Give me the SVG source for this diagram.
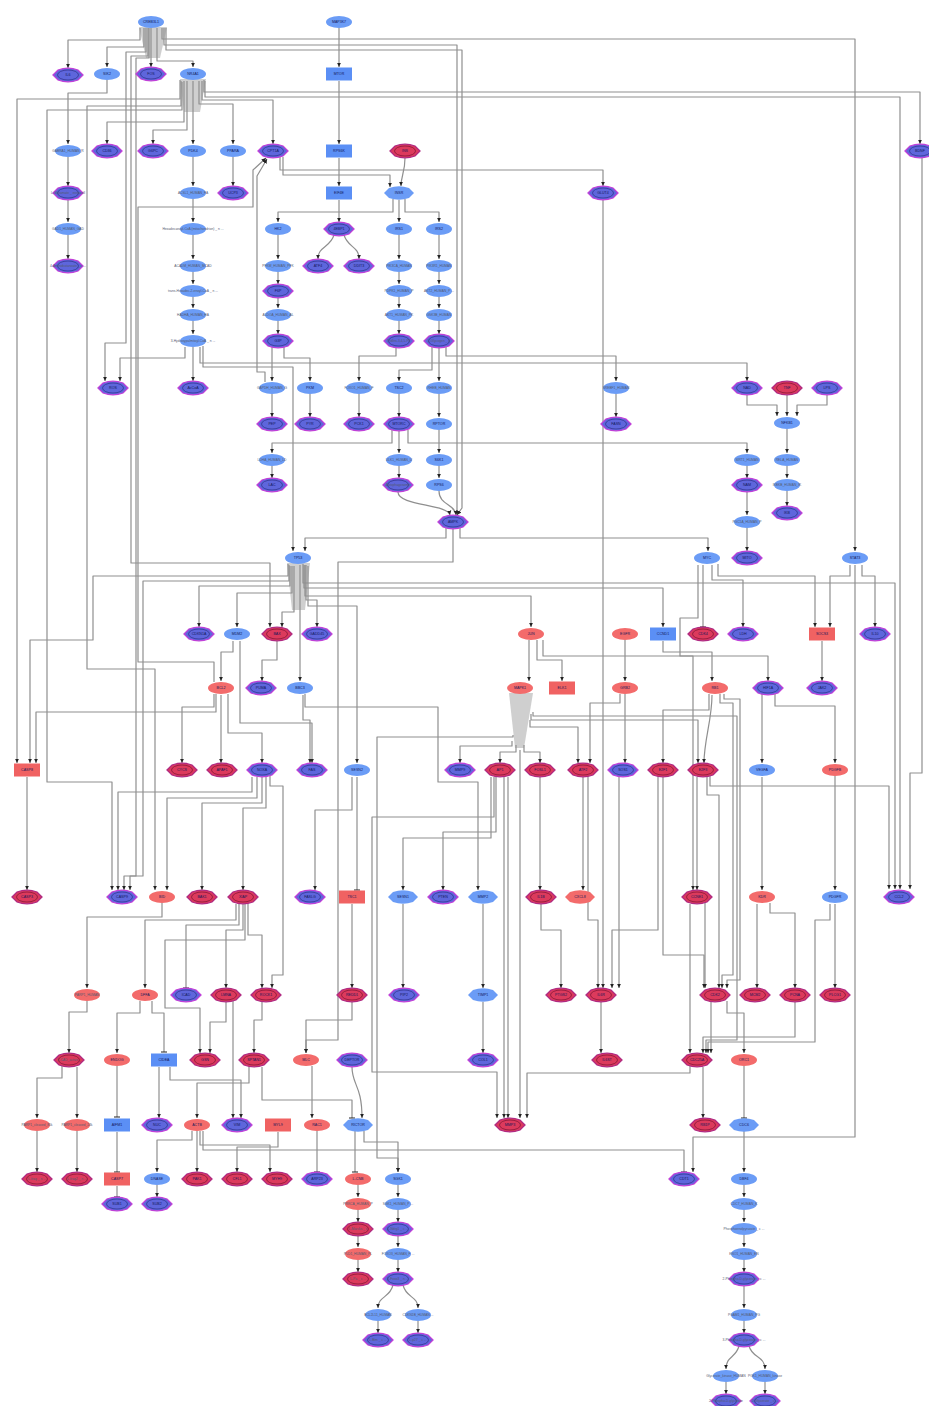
<svg xmlns="http://www.w3.org/2000/svg" width="929" height="1406" viewBox="0 0 929 1406">
<style>
.B,.BP{fill:#6b9cf6}
.R,.RP{fill:#f36b6b}
.DB{fill:#5e66dc;stroke:#c040d8;stroke-width:1.3}
.DBi{fill:none;stroke:#26267a;stroke-width:.6}
.DR{fill:#dc3a5c;stroke:#b02a82;stroke-width:1.3}
.DRi{fill:none;stroke:#6a0a30;stroke-width:.6}
.BR{fill:#5b8ff5}
.RR{fill:#f06262}
.lb{font-family:"Liberation Sans",Arial,sans-serif;font-size:3.6px;text-anchor:middle;dominant-baseline:central;fill:#14185a}
.lg{font-size:3.3px;fill:#555a70}
#edges path{fill:none;stroke:#8f8f8f;stroke-width:1.2;stroke-linejoin:round;marker-end:url(#ar)}
#edges path.t{marker-end:url(#tb)}
.cone{fill:#a8a8a8;opacity:.55}
</style>
<defs>
<marker id="ar" markerUnits="userSpaceOnUse" markerWidth="5" markerHeight="5" refX="4.5" refY="2.5" orient="auto" viewBox="0 0 5 5"><path d="M0,0.4 L4.6,2.5 L0,4.6z" fill="#222"/></marker>
<marker id="tb" markerUnits="userSpaceOnUse" markerWidth="6" markerHeight="6" refX="3" refY="3" orient="auto" viewBox="0 0 6 6"><path d="M3,0 V6" stroke="#222" stroke-width="1"/></marker>
<ellipse id="E" rx="13" ry="6"/>
<path id="P" d="M-15,0 L-10,-5 Q0,-8.6 10,-5 L15,0 L10,5 Q0,8.6 -10,5 Z"/>
<ellipse id="I" rx="10.5" ry="5"/>
<rect id="Q" x="-13" y="-6.5" width="26" height="13"/>
</defs>
<rect width="929" height="1406" fill="#ffffff"/>
<g id="cones">
<polygon class="cone" points="139,27 167,27 160,58 146,58"/>
<polygon class="cone" points="180,79 206,79 200,112 184,112"/>
<polygon class="cone" points="287,563 310,563 305,610 292,610"/>
<polygon class="cone" points="509,693 533,693 524,748 515,748"/>
</g>
<g id="edges">
<path d="M140,28 V40 H68 V68"/>
<path d="M144,28 V47 H107 V67"/>
<path d="M151,28 V67"/>
<path d="M157,28 V61 H193 V67"/>
<path d="M162,28 V39 H855 V551"/>
<path d="M164,28 V45 H457 V515"/>
<path d="M166,28 V50 H462 V508 L457,515"/>
<path d="M146,28 V52 H126 V343 H105 V381"/>
<path d="M148,28 V56 H131 V563 H270 V627"/>
<path d="M149,28 V58 H136 V876 H130 V890"/>
<path d="M339,28 V67"/>
<path d="M339,81 V144"/>
<path d="M339,158 V186"/>
<path d="M339,200 V222"/>
<path d="M334,235 C330,248 318,246 318,259"/>
<path d="M344,235 C348,248 359,246 359,259"/>
<path d="M107,80 V93 H68 V144"/>
<path d="M68,157 V186"/>
<path d="M68,200 V222"/>
<path d="M68,235 V259"/>
<path d="M184,81 V122 H107 V144"/>
<path d="M187,81 V130 H153 V144"/>
<path d="M193,81 V144"/>
<path d="M199,81 V104 H233 V144"/>
<path d="M202,81 V100 H273 V144"/>
<path d="M204,80 V92 H920 V144"/>
<path d="M205,81 V97 H900 V889"/>
<path d="M180,80 V99 H17 V763"/>
<path d="M181,81 V106 H87 V669 H155 V890"/>
<path d="M182,82 V110 H47 V782 H112 V890"/>
<path d="M193,157 V186"/>
<path d="M193,199 V222"/>
<path d="M193,235 V259"/>
<path d="M193,272 V284"/>
<path d="M193,297 V308"/>
<path d="M193,321 V334"/>
<path d="M193,347 V381"/>
<path d="M233,157 V186"/>
<path d="M185,347 V358 H120 V381"/>
<path d="M200,347 V363 H747 V381"/>
<path d="M203,346 V367 H293 V551"/>
<path d="M280,157 V170 H603 V186"/>
<path d="M283,157 V175 H390 V187"/>
<path d="M405,158 C405,172 401,176 401,186"/>
<path d="M393,199 V212 H278 V222"/>
<path d="M399,200 V222"/>
<path d="M405,199 V212 H439 V222"/>
<path d="M214,682 V662 H138 V207 H253 V170 L266,158"/>
<path d="M265,382 V372 H257 V176 L267,159"/>
<path d="M278,235 V259"/>
<path d="M278,272 V284"/>
<path d="M278,297 V308"/>
<path d="M278,321 V334"/>
<path d="M399,235 V259"/>
<path d="M399,272 V284"/>
<path d="M399,297 V308"/>
<path d="M399,321 V334"/>
<path d="M439,235 V259"/>
<path d="M439,272 V284"/>
<path d="M439,297 V308"/>
<path d="M439,321 V334"/>
<path d="M272,347 V381"/>
<path d="M284,347 V358 H310 V381"/>
<path d="M396,347 V356 H359 V381"/>
<path d="M432,347 V370 H399 V381"/>
<path d="M439,347 V381"/>
<path d="M446,347 V356 H616 V381"/>
<path d="M272,394 V417"/>
<path d="M310,394 V417"/>
<path d="M359,394 V417"/>
<path d="M399,394 V417"/>
<path d="M439,394 V417"/>
<path d="M616,394 V417"/>
<path d="M747,395 V405 H777 V416"/>
<path d="M787,395 V416"/>
<path d="M827,395 V405 H797 V416"/>
<path d="M787,429 V453"/>
<path d="M392,430 V443 H272 V453"/>
<path d="M408,430 V443 H747 V453"/>
<path d="M399,431 V453"/>
<path d="M439,430 V453"/>
<path d="M272,466 V478"/>
<path d="M399,466 V478"/>
<path d="M439,466 V478"/>
<path d="M747,466 V478"/>
<path d="M787,466 V478"/>
<path d="M787,491 V506"/>
<path d="M747,492 V515"/>
<path d="M747,528 V551"/>
<path d="M398,492 C398,506 448,504 450,515"/>
<path d="M439,491 C439,505 455,504 456,515"/>
<path d="M460,528 V538 H708 V551"/>
<path d="M446,528 V538 H305 V551"/>
<path d="M453,529 V562 H338 V1040 H306 V1053"/>
<path d="M288,564 V576 H93 V640 H30 V763"/>
<path d="M289,565 V581 H143 V876 H124 V890"/>
<path d="M290,566 V586 H199 V627"/>
<path d="M292,566 V593 H237 V627"/>
<path d="M294,566 V612 H282 V627"/>
<path d="M306,565 V600 H317 V627"/>
<path d="M308,566 V606 H357 V763"/>
<path d="M303,564 V583 H895 V889"/>
<path d="M304,565 V588 H663 V627"/>
<path d="M305,565 V596 H531 V627"/>
<path d="M300,565 V681"/>
<path d="M277,641 V660 H262 V681"/>
<path d="M233,641 V652 H221 V681"/>
<path d="M240,641 V723 H312 V763"/>
<path d="M214,694 V707 H182 V763"/>
<path d="M221,695 V763"/>
<path d="M228,694 V733 H262 V763"/>
<path d="M216,694 V712 H36 V763"/>
<path d="M303,695 V720 H310 V763"/>
<path d="M305,694 V707 H438 V782 H478 V890"/>
<path d="M27,777 V890"/>
<path d="M252,777 V792 H118 V890"/>
<path d="M257,777 V798 H167 V890"/>
<path d="M262,777 V803 H202 V890"/>
<path d="M266,777 V808 H243 V890"/>
<path d="M270,776 V786 H283 V975 H272 V988"/>
<path d="M162,903 V917 H87 V988"/>
<path d="M236,904 V920 H145 V988"/>
<path class="t" d="M239,904 V925 H186 V988"/>
<path d="M243,904 V930 H226 V988"/>
<path d="M248,904 V935 H262 V988"/>
<path d="M245,904 V940 H165 V1008 H200 V1053"/>
<path d="M87,1001 V1012 H69 V1053"/>
<path d="M140,1001 V1013 H117 V1053"/>
<path class="t" d="M152,1001 V1013 H164 V1052"/>
<path d="M226,1002 V1022 H210 V1053"/>
<path d="M262,1002 V1020 H254 V1053"/>
<path d="M233,1001 V1118"/>
<path d="M62,1066 V1078 H37 V1118"/>
<path d="M77,1067 V1118"/>
<path class="t" d="M117,1066 V1117"/>
<path d="M159,1067 V1118"/>
<path d="M170,1067 V1080 H241 V1118"/>
<path d="M249,1067 V1083 H197 V1118"/>
<path class="t" d="M262,1067 V1100 H352 V1118"/>
<path d="M312,1066 V1118"/>
<path d="M352,1002 V1020 H306 V1053"/>
<path d="M352,1067 C352,1085 362,1085 362,1118"/>
<path d="M37,1131 V1172"/>
<path d="M77,1131 V1172"/>
<path class="t" d="M117,1132 V1172"/>
<path class="t" d="M117,1186 V1197"/>
<path d="M157,1185 V1197"/>
<path d="M192,1131 V1140 H157 V1172"/>
<path d="M197,1131 V1172"/>
<path d="M200,1131 V1145 H270 V1172"/>
<path class="t" d="M203,1131 V1150 H684 V1172"/>
<path d="M278,1132 V1147 H237 V1172"/>
<path class="t" d="M317,1131 V1172"/>
<path class="t" d="M355,1131 V1172"/>
<path d="M364,1131 V1142 H398 V1172"/>
<path d="M358,1185 V1197"/>
<path d="M358,1210 V1222"/>
<path d="M358,1235 V1247"/>
<path d="M358,1260 V1272"/>
<path d="M398,1185 V1197"/>
<path d="M398,1210 V1222"/>
<path d="M398,1235 V1247"/>
<path d="M398,1260 V1272"/>
<path d="M393,1285 C390,1298 378,1296 378,1308"/>
<path d="M403,1285 C406,1298 418,1296 418,1308"/>
<path d="M378,1321 V1333"/>
<path d="M418,1321 V1333"/>
<path d="M529,640 V681"/>
<path d="M537,640 V660 H562 V681"/>
<path d="M543,640 V656 H693 V890"/>
<path d="M625,640 V681"/>
<path d="M625,694 V763"/>
<path d="M620,694 V703 H590 V763"/>
<path d="M663,641 V652 H712 V681"/>
<path class="t" d="M703,565 V627"/>
<path d="M712,565 V580 H743 V627"/>
<path d="M718,564 V576 H815 V627"/>
<path d="M698,565 V618 H680 V656 H768 V681"/>
<path d="M850,565 V576 H830 V627"/>
<path d="M862,565 V576 H875 V627"/>
<path d="M855,565 V1137 H693 V1172"/>
<path d="M822,641 V681"/>
<path d="M762,694 V763"/>
<path d="M775,694 V706 H835 V763"/>
<path d="M762,777 V890"/>
<path d="M835,776 V890"/>
<path d="M709,694 V710 H663 V763"/>
<path d="M712,695 C712,720 704,740 704,763"/>
<path d="M720,694 V703 H733 V975 H722 V988"/>
<path d="M724,694 V699 H740 V980 H727 V988"/>
<path d="M697,777 V890"/>
<path d="M707,777 V795 H719 V988"/>
<path d="M710,776 V786 H889 V889"/>
<path d="M663,777 V955 H704 V988"/>
<path d="M658,777 V930 H612 V988"/>
<path d="M619,777 V988"/>
<path d="M588,777 V920 H598 V988"/>
<path d="M603,200 V988"/>
<path d="M583,777 V890"/>
<path d="M491,777 V838 H403 V890"/>
<path d="M496,777 V832 H443 V890"/>
<path d="M504,777 V1118"/>
<path d="M508,777 V1118"/>
<path d="M494,777 V817 H372 V1072 H497 V1118"/>
<path d="M512,741 V746 H460 V763"/>
<path d="M516,745 V752 H500 V763"/>
<path d="M524,745 V752 H540 V763"/>
<path d="M530,720 V727 H578 V763"/>
<path d="M520,750 V1118"/>
<path d="M513,735 V737 H377 V1158 H398 V1172"/>
<path d="M533,712 V716 H737 V1040 H706 V1053"/>
<path d="M531,714 V720 H698 V763"/>
<path d="M540,777 V890"/>
<path d="M541,904 V930 H561 V988"/>
<path d="M601,1002 V1053"/>
<path d="M757,904 V988"/>
<path d="M770,903 V913 H795 V988"/>
<path d="M835,904 V988"/>
<path d="M795,1002 V1037 H703 V1053"/>
<path d="M830,904 V920 H815 V1042 H708 V1053"/>
<path d="M727,1001 V1013 H744 V1053"/>
<path d="M711,1002 V1053"/>
<path d="M703,1067 V1118"/>
<path d="M690,1065 V1073 H527 V1118"/>
<path class="t" d="M744,1066 V1118"/>
<path d="M744,1131 V1172"/>
<path d="M744,1185 V1197"/>
<path d="M744,1210 V1222"/>
<path d="M744,1235 V1247"/>
<path d="M744,1260 V1272"/>
<path d="M744,1286 V1308"/>
<path d="M744,1321 V1333"/>
<path d="M739,1346 C736,1358 726,1356 726,1369"/>
<path d="M749,1346 C752,1358 765,1356 765,1369"/>
<path d="M726,1382 V1394"/>
<path d="M765,1382 V1394"/>
<path class="t" d="M357,777 V890"/>
<path d="M352,777 V810 H315 V890"/>
<path d="M352,904 V988"/>
<path d="M403,904 V988"/>
<path d="M483,904 V988"/>
<path d="M483,1002 V1053"/>
<path d="M922,158 V773 H910 V889"/>
<path d="M705,903 V988"/>
<path d="M690,904 V1053"/>
</g>
<g id="nodes">
<g id="n1"><use href="#E" class="B" x="151" y="22"/><text class="lb" x="151" y="22">CREB3L1</text></g>
<g id="n2"><use href="#E" class="B" x="339" y="22"/><text class="lb" x="339" y="22">MAP3K7</text></g>
<g id="n3"><use href="#P" class="DB" x="68" y="75"/><use href="#I" class="DBi" x="68" y="75"/><text class="lb" x="68" y="75">IL6</text></g>
<g id="n4"><use href="#E" class="B" x="107" y="74"/><text class="lb" x="107" y="74">SIK2</text></g>
<g id="n5"><use href="#P" class="DB" x="151" y="74"/><use href="#I" class="DBi" x="151" y="74"/><text class="lb" x="151" y="74">FOS</text></g>
<g id="n6"><use href="#E" class="B" x="193" y="74"/><text class="lb" x="193" y="74">NR4A1</text></g>
<g id="n7"><use href="#Q" class="BR" x="339" y="74"/><text class="lb" x="339" y="74">MTOR</text></g>
<g id="n8"><use href="#E" class="B" x="68" y="151"/><text class="lb lg" x="68" y="151">GABRA1_HUMAN_R</text></g>
<g id="n9"><use href="#P" class="DB" x="107" y="151"/><use href="#I" class="DBi" x="107" y="151"/><text class="lb" x="107" y="151">CD36</text></g>
<g id="n10"><use href="#P" class="DB" x="153" y="151"/><use href="#I" class="DBi" x="153" y="151"/><text class="lb" x="153" y="151">G6PC</text></g>
<g id="n11"><use href="#E" class="B" x="193" y="151"/><text class="lb" x="193" y="151">PDK4</text></g>
<g id="n12"><use href="#E" class="B" x="233" y="151"/><text class="lb" x="233" y="151">PPARA</text></g>
<g id="n13"><use href="#P" class="DB" x="273" y="151"/><use href="#I" class="DBi" x="273" y="151"/><text class="lb" x="273" y="151">CPT1A</text></g>
<g id="n14"><use href="#Q" class="BR" x="339" y="151"/><text class="lb" x="339" y="151">RPS6K</text></g>
<g id="n15"><use href="#P" class="DR" x="405" y="151"/><use href="#I" class="DRi" x="405" y="151"/><text class="lb" x="405" y="151">INS</text></g>
<g id="n16"><use href="#P" class="DB" x="920" y="151"/><use href="#I" class="DBi" x="920" y="151"/><text class="lb" x="920" y="151">BDNF</text></g>
<g id="n17"><use href="#P" class="DB" x="68" y="193"/><use href="#I" class="DBi" x="68" y="193"/><text class="lb lg" x="68" y="193">L-Glutamate _ extracell</text></g>
<g id="n18"><use href="#E" class="B" x="193" y="193"/><text class="lb lg" x="193" y="193">ACSL1_HUMAN_FA</text></g>
<g id="n19"><use href="#P" class="DB" x="233" y="193"/><use href="#I" class="DBi" x="233" y="193"/><text class="lb" x="233" y="193">UCP3</text></g>
<g id="n20"><use href="#Q" class="BR" x="339" y="193"/><text class="lb" x="339" y="193">EIF4E</text></g>
<g id="n21"><use href="#P" class="BP" x="399" y="193"/><text class="lb" x="399" y="193">INSR</text></g>
<g id="n22"><use href="#P" class="DB" x="603" y="193"/><use href="#I" class="DBi" x="603" y="193"/><text class="lb" x="603" y="193">GLUT4</text></g>
<g id="n23"><use href="#E" class="B" x="68" y="229"/><text class="lb lg" x="68" y="229">GAD1_HUMAN_GAD</text></g>
<g id="n24"><use href="#E" class="B" x="193" y="229"/><text class="lb lg" x="193" y="229">Hexadecanoyl-CoA (mitochondrion) _ n ...</text></g>
<g id="n25"><use href="#E" class="B" x="278" y="229"/><text class="lb" x="278" y="229">HK2</text></g>
<g id="n26"><use href="#P" class="DB" x="339" y="229"/><use href="#I" class="DBi" x="339" y="229"/><text class="lb" x="339" y="229">4EBP1</text></g>
<g id="n27"><use href="#E" class="B" x="399" y="229"/><text class="lb" x="399" y="229">IRS1</text></g>
<g id="n28"><use href="#E" class="B" x="439" y="229"/><text class="lb" x="439" y="229">IRS2</text></g>
<g id="n29"><use href="#P" class="DB" x="68" y="266"/><use href="#I" class="DBi" x="68" y="266"/><text class="lb lg" x="68" y="266">4-Aminobutanoate _ c ...</text></g>
<g id="n30"><use href="#E" class="B" x="193" y="266"/><text class="lb lg" x="193" y="266">ACADM_HUMAN_MCAD</text></g>
<g id="n31"><use href="#E" class="B" x="278" y="266"/><text class="lb lg" x="278" y="266">PFKM_HUMAN_PFK</text></g>
<g id="n32"><use href="#P" class="DB" x="318" y="266"/><use href="#I" class="DBi" x="318" y="266"/><text class="lb" x="318" y="266">ATF4</text></g>
<g id="n33"><use href="#P" class="DB" x="359" y="266"/><use href="#I" class="DBi" x="359" y="266"/><text class="lb" x="359" y="266">DDIT3</text></g>
<g id="n34"><use href="#E" class="B" x="399" y="266"/><text class="lb lg" x="399" y="266">PIK3CA_HUMAN</text></g>
<g id="n35"><use href="#E" class="B" x="439" y="266"/><text class="lb lg" x="439" y="266">PIK3R1_HUMAN</text></g>
<g id="n36"><use href="#E" class="B" x="193" y="291"/><text class="lb lg" x="193" y="291">trans-Hexadec-2-enoyl-CoA _ n ...</text></g>
<g id="n37"><use href="#P" class="DB" x="278" y="291"/><use href="#I" class="DBi" x="278" y="291"/><text class="lb" x="278" y="291">F6P</text></g>
<g id="n38"><use href="#E" class="B" x="399" y="291"/><text class="lb lg" x="399" y="291">PDPK1_HUMAN_P</text></g>
<g id="n39"><use href="#E" class="B" x="439" y="291"/><text class="lb lg" x="439" y="291">AKT2_HUMAN_P ...</text></g>
<g id="n40"><use href="#E" class="B" x="193" y="315"/><text class="lb lg" x="193" y="315">HADHA_HUMAN_HA</text></g>
<g id="n41"><use href="#E" class="B" x="278" y="315"/><text class="lb lg" x="278" y="315">ALDOA_HUMAN_AL</text></g>
<g id="n42"><use href="#E" class="B" x="399" y="315"/><text class="lb lg" x="399" y="315">AKT1_HUMAN_PK</text></g>
<g id="n43"><use href="#E" class="B" x="439" y="315"/><text class="lb lg" x="439" y="315">GSK3B_HUMAN</text></g>
<g id="n44"><use href="#E" class="B" x="193" y="341"/><text class="lb lg" x="193" y="341">3-Hydroxypalmitoyl-CoA _ n ...</text></g>
<g id="n45"><use href="#P" class="DB" x="278" y="341"/><use href="#I" class="DBi" x="278" y="341"/><text class="lb" x="278" y="341">G3P</text></g>
<g id="n46"><use href="#P" class="DB" x="399" y="341"/><use href="#I" class="DBi" x="399" y="341"/><text class="lb lg" x="399" y="341">PtdIns-3,4,5-P3</text></g>
<g id="n47"><use href="#P" class="DB" x="439" y="341"/><use href="#I" class="DBi" x="439" y="341"/><text class="lb lg" x="439" y="341">L-Glycogen _ c</text></g>
<g id="n48"><use href="#P" class="DB" x="113" y="388"/><use href="#I" class="DBi" x="113" y="388"/><text class="lb" x="113" y="388">ROS</text></g>
<g id="n49"><use href="#P" class="DB" x="193" y="388"/><use href="#I" class="DBi" x="193" y="388"/><text class="lb" x="193" y="388">AcCoA</text></g>
<g id="n50"><use href="#E" class="B" x="272" y="388"/><text class="lb lg" x="272" y="388">GAPDH_HUMAN_G</text></g>
<g id="n51"><use href="#E" class="B" x="310" y="388"/><text class="lb" x="310" y="388">PKM</text></g>
<g id="n52"><use href="#E" class="B" x="359" y="388"/><text class="lb lg" x="359" y="388">FOXO1_HUMAN_F</text></g>
<g id="n53"><use href="#E" class="B" x="399" y="388"/><text class="lb" x="399" y="388">TSC2</text></g>
<g id="n54"><use href="#E" class="B" x="439" y="388"/><text class="lb lg" x="439" y="388">RHEB_HUMAN</text></g>
<g id="n55"><use href="#E" class="B" x="616" y="388"/><text class="lb lg" x="616" y="388">SREBF1_HUMAN</text></g>
<g id="n56"><use href="#P" class="DB" x="747" y="388"/><use href="#I" class="DBi" x="747" y="388"/><text class="lb" x="747" y="388">NAD</text></g>
<g id="n57"><use href="#P" class="DR" x="787" y="388"/><use href="#I" class="DRi" x="787" y="388"/><text class="lb" x="787" y="388">TNF</text></g>
<g id="n58"><use href="#P" class="DB" x="827" y="388"/><use href="#I" class="DBi" x="827" y="388"/><text class="lb" x="827" y="388">LPS</text></g>
<g id="n59"><use href="#P" class="DB" x="272" y="424"/><use href="#I" class="DBi" x="272" y="424"/><text class="lb" x="272" y="424">PEP</text></g>
<g id="n60"><use href="#P" class="DB" x="310" y="424"/><use href="#I" class="DBi" x="310" y="424"/><text class="lb" x="310" y="424">PYR</text></g>
<g id="n61"><use href="#P" class="DB" x="359" y="424"/><use href="#I" class="DBi" x="359" y="424"/><text class="lb" x="359" y="424">PCK1</text></g>
<g id="n62"><use href="#P" class="DB" x="399" y="424"/><use href="#I" class="DBi" x="399" y="424"/><text class="lb" x="399" y="424">MTORC</text></g>
<g id="n63"><use href="#E" class="B" x="439" y="424"/><text class="lb" x="439" y="424">RPTOR</text></g>
<g id="n64"><use href="#P" class="DB" x="616" y="424"/><use href="#I" class="DBi" x="616" y="424"/><text class="lb" x="616" y="424">FASN</text></g>
<g id="n65"><use href="#E" class="B" x="787" y="423"/><text class="lb" x="787" y="423">NFKB1</text></g>
<g id="n66"><use href="#E" class="B" x="272" y="460"/><text class="lb lg" x="272" y="460">LDHA_HUMAN_LD</text></g>
<g id="n67"><use href="#E" class="B" x="399" y="460"/><text class="lb lg" x="399" y="460">ULK1_HUMAN_U</text></g>
<g id="n68"><use href="#E" class="B" x="439" y="460"/><text class="lb" x="439" y="460">S6K1</text></g>
<g id="n69"><use href="#E" class="B" x="747" y="460"/><text class="lb lg" x="747" y="460">SIRT1_HUMAN</text></g>
<g id="n70"><use href="#E" class="B" x="787" y="460"/><text class="lb lg" x="787" y="460">RELA_HUMAN</text></g>
<g id="n71"><use href="#P" class="DB" x="272" y="485"/><use href="#I" class="DBi" x="272" y="485"/><text class="lb" x="272" y="485">LAC</text></g>
<g id="n72"><use href="#P" class="DB" x="398" y="485"/><use href="#I" class="DBi" x="398" y="485"/><text class="lb lg" x="398" y="485">Autophagosome</text></g>
<g id="n73"><use href="#E" class="B" x="439" y="485"/><text class="lb" x="439" y="485">RPS6</text></g>
<g id="n74"><use href="#P" class="DB" x="747" y="485"/><use href="#I" class="DBi" x="747" y="485"/><text class="lb" x="747" y="485">NAM</text></g>
<g id="n75"><use href="#E" class="B" x="787" y="485"/><text class="lb lg" x="787" y="485">IKBKB_HUMAN_IK</text></g>
<g id="n76"><use href="#P" class="DB" x="787" y="513"/><use href="#I" class="DBi" x="787" y="513"/><text class="lb" x="787" y="513">IKB</text></g>
<g id="n77"><use href="#P" class="DB" x="453" y="522"/><use href="#I" class="DBi" x="453" y="522"/><text class="lb" x="453" y="522">AMPK</text></g>
<g id="n78"><use href="#E" class="B" x="747" y="522"/><text class="lb lg" x="747" y="522">PGC1A_HUMAN_P</text></g>
<g id="n79"><use href="#E" class="B" x="298" y="558"/><text class="lb" x="298" y="558">TP53</text></g>
<g id="n80"><use href="#E" class="B" x="707" y="558"/><text class="lb" x="707" y="558">MYC</text></g>
<g id="n81"><use href="#P" class="DB" x="747" y="558"/><use href="#I" class="DBi" x="747" y="558"/><text class="lb" x="747" y="558">MITO</text></g>
<g id="n82"><use href="#E" class="B" x="855" y="558"/><text class="lb" x="855" y="558">STAT3</text></g>
<g id="n83"><use href="#P" class="DB" x="199" y="634"/><use href="#I" class="DBi" x="199" y="634"/><text class="lb" x="199" y="634">CDKN1A</text></g>
<g id="n84"><use href="#E" class="B" x="237" y="634"/><text class="lb" x="237" y="634">MDM2</text></g>
<g id="n85"><use href="#P" class="DR" x="277" y="634"/><use href="#I" class="DRi" x="277" y="634"/><text class="lb" x="277" y="634">BAX</text></g>
<g id="n86"><use href="#P" class="DB" x="317" y="634"/><use href="#I" class="DBi" x="317" y="634"/><text class="lb" x="317" y="634">GADD45</text></g>
<g id="n87"><use href="#E" class="R" x="531" y="634"/><text class="lb" x="531" y="634">JUN</text></g>
<g id="n88"><use href="#E" class="R" x="625" y="634"/><text class="lb" x="625" y="634">EGFR</text></g>
<g id="n89"><use href="#Q" class="BR" x="663" y="634"/><text class="lb" x="663" y="634">CCND1</text></g>
<g id="n90"><use href="#P" class="DR" x="703" y="634"/><use href="#I" class="DRi" x="703" y="634"/><text class="lb" x="703" y="634">CDK4</text></g>
<g id="n91"><use href="#P" class="DB" x="743" y="634"/><use href="#I" class="DBi" x="743" y="634"/><text class="lb" x="743" y="634">LDH</text></g>
<g id="n92"><use href="#Q" class="RR" x="822" y="634"/><text class="lb" x="822" y="634">SOCS3</text></g>
<g id="n93"><use href="#P" class="DB" x="875" y="634"/><use href="#I" class="DBi" x="875" y="634"/><text class="lb" x="875" y="634">IL10</text></g>
<g id="n94"><use href="#E" class="R" x="221" y="688"/><text class="lb" x="221" y="688">BCL2</text></g>
<g id="n95"><use href="#P" class="DB" x="261" y="688"/><use href="#I" class="DBi" x="261" y="688"/><text class="lb" x="261" y="688">PUMA</text></g>
<g id="n96"><use href="#E" class="B" x="300" y="688"/><text class="lb" x="300" y="688">BBC3</text></g>
<g id="n97"><use href="#E" class="R" x="520" y="688"/><text class="lb" x="520" y="688">MAPK1</text></g>
<g id="n98"><use href="#Q" class="RR" x="562" y="688"/><text class="lb" x="562" y="688">ELK1</text></g>
<g id="n99"><use href="#E" class="R" x="625" y="688"/><text class="lb" x="625" y="688">GRB2</text></g>
<g id="n100"><use href="#E" class="R" x="715" y="688"/><text class="lb" x="715" y="688">RB1</text></g>
<g id="n101"><use href="#P" class="DB" x="768" y="688"/><use href="#I" class="DBi" x="768" y="688"/><text class="lb" x="768" y="688">HIF1A</text></g>
<g id="n102"><use href="#P" class="DB" x="822" y="688"/><use href="#I" class="DBi" x="822" y="688"/><text class="lb" x="822" y="688">JAK2</text></g>
<g id="n103"><use href="#Q" class="RR" x="27" y="770"/><text class="lb" x="27" y="770">CASP8</text></g>
<g id="n104"><use href="#P" class="DR" x="182" y="770"/><use href="#I" class="DRi" x="182" y="770"/><text class="lb" x="182" y="770">CYCS</text></g>
<g id="n105"><use href="#P" class="DR" x="222" y="770"/><use href="#I" class="DRi" x="222" y="770"/><text class="lb" x="222" y="770">APAF1</text></g>
<g id="n106"><use href="#P" class="DB" x="262" y="770"/><use href="#I" class="DBi" x="262" y="770"/><text class="lb" x="262" y="770">NOXA</text></g>
<g id="n107"><use href="#P" class="DB" x="312" y="770"/><use href="#I" class="DBi" x="312" y="770"/><text class="lb" x="312" y="770">FAS</text></g>
<g id="n108"><use href="#E" class="B" x="357" y="770"/><text class="lb" x="357" y="770">SESN2</text></g>
<g id="n109"><use href="#P" class="DB" x="460" y="770"/><use href="#I" class="DBi" x="460" y="770"/><text class="lb" x="460" y="770">MMP9</text></g>
<g id="n110"><use href="#P" class="DR" x="500" y="770"/><use href="#I" class="DRi" x="500" y="770"/><text class="lb" x="500" y="770">AP1</text></g>
<g id="n111"><use href="#P" class="DR" x="540" y="770"/><use href="#I" class="DRi" x="540" y="770"/><text class="lb" x="540" y="770">FOSL1</text></g>
<g id="n112"><use href="#P" class="DR" x="583" y="770"/><use href="#I" class="DRi" x="583" y="770"/><text class="lb" x="583" y="770">ATF2</text></g>
<g id="n113"><use href="#P" class="DB" x="623" y="770"/><use href="#I" class="DBi" x="623" y="770"/><text class="lb" x="623" y="770">SOS1</text></g>
<g id="n114"><use href="#P" class="DR" x="663" y="770"/><use href="#I" class="DRi" x="663" y="770"/><text class="lb" x="663" y="770">E2F1</text></g>
<g id="n115"><use href="#P" class="DR" x="703" y="770"/><use href="#I" class="DRi" x="703" y="770"/><text class="lb" x="703" y="770">E2F3</text></g>
<g id="n116"><use href="#E" class="B" x="762" y="770"/><text class="lb" x="762" y="770">VEGFA</text></g>
<g id="n117"><use href="#E" class="R" x="835" y="770"/><text class="lb" x="835" y="770">PDGFB</text></g>
<g id="n118"><use href="#P" class="DR" x="27" y="897"/><use href="#I" class="DRi" x="27" y="897"/><text class="lb" x="27" y="897">CASP3</text></g>
<g id="n119"><use href="#P" class="DB" x="122" y="897"/><use href="#I" class="DBi" x="122" y="897"/><text class="lb" x="122" y="897">CASP9</text></g>
<g id="n120"><use href="#E" class="R" x="162" y="897"/><text class="lb" x="162" y="897">BID</text></g>
<g id="n121"><use href="#P" class="DR" x="202" y="897"/><use href="#I" class="DRi" x="202" y="897"/><text class="lb" x="202" y="897">BAK1</text></g>
<g id="n122"><use href="#P" class="DR" x="243" y="897"/><use href="#I" class="DRi" x="243" y="897"/><text class="lb" x="243" y="897">XIAP</text></g>
<g id="n123"><use href="#P" class="DB" x="310" y="897"/><use href="#I" class="DBi" x="310" y="897"/><text class="lb" x="310" y="897">FASLG</text></g>
<g id="n124"><use href="#Q" class="RR" x="352" y="897"/><text class="lb" x="352" y="897">TSC1</text></g>
<g id="n125"><use href="#P" class="BP" x="403" y="897"/><text class="lb" x="403" y="897">SESN1</text></g>
<g id="n126"><use href="#P" class="DB" x="443" y="897"/><use href="#I" class="DBi" x="443" y="897"/><text class="lb" x="443" y="897">PTEN</text></g>
<g id="n127"><use href="#P" class="BP" x="483" y="897"/><text class="lb" x="483" y="897">MMP2</text></g>
<g id="n128"><use href="#P" class="DR" x="541" y="897"/><use href="#I" class="DRi" x="541" y="897"/><text class="lb" x="541" y="897">IL1B</text></g>
<g id="n129"><use href="#P" class="RP" x="580" y="897"/><text class="lb" x="580" y="897">CXCL8</text></g>
<g id="n130"><use href="#P" class="DR" x="697" y="897"/><use href="#I" class="DRi" x="697" y="897"/><text class="lb" x="697" y="897">CCNE1</text></g>
<g id="n131"><use href="#E" class="R" x="762" y="897"/><text class="lb" x="762" y="897">KDR</text></g>
<g id="n132"><use href="#E" class="B" x="835" y="897"/><text class="lb" x="835" y="897">PDGFR</text></g>
<g id="n133"><use href="#P" class="DB" x="899" y="897"/><use href="#I" class="DBi" x="899" y="897"/><text class="lb" x="899" y="897">CCL2</text></g>
<g id="n134"><use href="#E" class="R" x="87" y="995"/><text class="lb lg" x="87" y="995">PARP1_HUMAN</text></g>
<g id="n135"><use href="#E" class="R" x="145" y="995"/><text class="lb" x="145" y="995">DFFA</text></g>
<g id="n136"><use href="#P" class="DB" x="186" y="995"/><use href="#I" class="DBi" x="186" y="995"/><text class="lb" x="186" y="995">ICAD</text></g>
<g id="n137"><use href="#P" class="DR" x="226" y="995"/><use href="#I" class="DRi" x="226" y="995"/><text class="lb" x="226" y="995">LMNA</text></g>
<g id="n138"><use href="#P" class="DR" x="266" y="995"/><use href="#I" class="DRi" x="266" y="995"/><text class="lb" x="266" y="995">ROCK1</text></g>
<g id="n139"><use href="#P" class="DR" x="352" y="995"/><use href="#I" class="DRi" x="352" y="995"/><text class="lb" x="352" y="995">REDD1</text></g>
<g id="n140"><use href="#P" class="DB" x="404" y="995"/><use href="#I" class="DBi" x="404" y="995"/><text class="lb" x="404" y="995">PIP2</text></g>
<g id="n141"><use href="#P" class="BP" x="483" y="995"/><text class="lb" x="483" y="995">TIMP1</text></g>
<g id="n142"><use href="#P" class="DR" x="561" y="995"/><use href="#I" class="DRi" x="561" y="995"/><text class="lb" x="561" y="995">PTGS2</text></g>
<g id="n143"><use href="#P" class="DR" x="601" y="995"/><use href="#I" class="DRi" x="601" y="995"/><text class="lb" x="601" y="995">IL6R</text></g>
<g id="n144"><use href="#P" class="DR" x="715" y="995"/><use href="#I" class="DRi" x="715" y="995"/><text class="lb" x="715" y="995">CDK2</text></g>
<g id="n145"><use href="#P" class="DR" x="755" y="995"/><use href="#I" class="DRi" x="755" y="995"/><text class="lb" x="755" y="995">MCM2</text></g>
<g id="n146"><use href="#P" class="DR" x="795" y="995"/><use href="#I" class="DRi" x="795" y="995"/><text class="lb" x="795" y="995">PCNA</text></g>
<g id="n147"><use href="#P" class="DR" x="835" y="995"/><use href="#I" class="DRi" x="835" y="995"/><text class="lb" x="835" y="995">PLCG1</text></g>
<g id="n148"><use href="#P" class="DR" x="69" y="1060"/><use href="#I" class="DRi" x="69" y="1060"/><text class="lb lg" x="69" y="1060">L-CAD_active _</text></g>
<g id="n149"><use href="#E" class="R" x="117" y="1060"/><text class="lb" x="117" y="1060">ENDOG</text></g>
<g id="n150"><use href="#Q" class="BR" x="164" y="1060"/><text class="lb" x="164" y="1060">CIDEA</text></g>
<g id="n151"><use href="#P" class="DR" x="205" y="1060"/><use href="#I" class="DRi" x="205" y="1060"/><text class="lb" x="205" y="1060">GSN</text></g>
<g id="n152"><use href="#P" class="DR" x="254" y="1060"/><use href="#I" class="DRi" x="254" y="1060"/><text class="lb" x="254" y="1060">SPTAN1</text></g>
<g id="n153"><use href="#E" class="R" x="306" y="1060"/><text class="lb" x="306" y="1060">MLC</text></g>
<g id="n154"><use href="#P" class="DB" x="352" y="1060"/><use href="#I" class="DBi" x="352" y="1060"/><text class="lb" x="352" y="1060">DEPTOR</text></g>
<g id="n155"><use href="#P" class="DB" x="483" y="1060"/><use href="#I" class="DBi" x="483" y="1060"/><text class="lb" x="483" y="1060">COL1</text></g>
<g id="n156"><use href="#P" class="DR" x="607" y="1060"/><use href="#I" class="DRi" x="607" y="1060"/><text class="lb" x="607" y="1060">IL6ST</text></g>
<g id="n157"><use href="#P" class="DR" x="697" y="1060"/><use href="#I" class="DRi" x="697" y="1060"/><text class="lb" x="697" y="1060">CDC25A</text></g>
<g id="n158"><use href="#E" class="R" x="744" y="1060"/><text class="lb" x="744" y="1060">ORC1</text></g>
<g id="n159"><use href="#E" class="R" x="37" y="1125"/><text class="lb lg" x="37" y="1125">PARP1_cleaved_85k</text></g>
<g id="n160"><use href="#E" class="R" x="77" y="1125"/><text class="lb lg" x="77" y="1125">PARP1_cleaved_24k</text></g>
<g id="n161"><use href="#Q" class="BR" x="117" y="1125"/><text class="lb" x="117" y="1125">AIFM1</text></g>
<g id="n162"><use href="#P" class="DB" x="157" y="1125"/><use href="#I" class="DBi" x="157" y="1125"/><text class="lb" x="157" y="1125">NUC</text></g>
<g id="n163"><use href="#E" class="R" x="197" y="1125"/><text class="lb" x="197" y="1125">ACTB</text></g>
<g id="n164"><use href="#P" class="DB" x="237" y="1125"/><use href="#I" class="DBi" x="237" y="1125"/><text class="lb" x="237" y="1125">VIM</text></g>
<g id="n165"><use href="#Q" class="RR" x="278" y="1125"/><text class="lb" x="278" y="1125">MYL9</text></g>
<g id="n166"><use href="#E" class="R" x="317" y="1125"/><text class="lb" x="317" y="1125">RAC1</text></g>
<g id="n167"><use href="#P" class="BP" x="358" y="1125"/><text class="lb" x="358" y="1125">RICTOR</text></g>
<g id="n168"><use href="#P" class="DR" x="510" y="1125"/><use href="#I" class="DRi" x="510" y="1125"/><text class="lb" x="510" y="1125">MMP3</text></g>
<g id="n169"><use href="#P" class="DR" x="705" y="1125"/><use href="#I" class="DRi" x="705" y="1125"/><text class="lb" x="705" y="1125">RB1P</text></g>
<g id="n170"><use href="#P" class="BP" x="744" y="1125"/><text class="lb" x="744" y="1125">CDC6</text></g>
<g id="n171"><use href="#P" class="DR" x="37" y="1179"/><use href="#I" class="DRi" x="37" y="1179"/><text class="lb lg" x="37" y="1179">L-frag _ n ...</text></g>
<g id="n172"><use href="#P" class="DR" x="77" y="1179"/><use href="#I" class="DRi" x="77" y="1179"/><text class="lb lg" x="77" y="1179">L-frag2 _ n ...</text></g>
<g id="n173"><use href="#Q" class="RR" x="117" y="1179"/><text class="lb" x="117" y="1179">CASP7</text></g>
<g id="n174"><use href="#E" class="B" x="157" y="1179"/><text class="lb" x="157" y="1179">DNASE</text></g>
<g id="n175"><use href="#P" class="DR" x="197" y="1179"/><use href="#I" class="DRi" x="197" y="1179"/><text class="lb" x="197" y="1179">PAK1</text></g>
<g id="n176"><use href="#P" class="DR" x="237" y="1179"/><use href="#I" class="DRi" x="237" y="1179"/><text class="lb" x="237" y="1179">CFL1</text></g>
<g id="n177"><use href="#P" class="DR" x="277" y="1179"/><use href="#I" class="DRi" x="277" y="1179"/><text class="lb" x="277" y="1179">MYH9</text></g>
<g id="n178"><use href="#P" class="DB" x="317" y="1179"/><use href="#I" class="DBi" x="317" y="1179"/><text class="lb" x="317" y="1179">ARP23</text></g>
<g id="n179"><use href="#E" class="R" x="358" y="1179"/><text class="lb" x="358" y="1179">L-CNB</text></g>
<g id="n180"><use href="#E" class="B" x="398" y="1179"/><text class="lb" x="398" y="1179">SGK1</text></g>
<g id="n181"><use href="#P" class="DB" x="684" y="1179"/><use href="#I" class="DBi" x="684" y="1179"/><text class="lb" x="684" y="1179">CDT1</text></g>
<g id="n182"><use href="#E" class="B" x="744" y="1179"/><text class="lb" x="744" y="1179">DBF4</text></g>
<g id="n183"><use href="#P" class="DB" x="117" y="1204"/><use href="#I" class="DBi" x="117" y="1204"/><text class="lb" x="117" y="1204">SUB1</text></g>
<g id="n184"><use href="#P" class="DB" x="157" y="1204"/><use href="#I" class="DBi" x="157" y="1204"/><text class="lb" x="157" y="1204">SUB2</text></g>
<g id="n185"><use href="#E" class="R" x="358" y="1204"/><text class="lb lg" x="358" y="1204">PRKCA_HUMAN_P</text></g>
<g id="n186"><use href="#E" class="B" x="398" y="1204"/><text class="lb lg" x="398" y="1204">SGK1_HUMAN_P ...</text></g>
<g id="n187"><use href="#E" class="B" x="744" y="1204"/><text class="lb lg" x="744" y="1204">CDC7_HUMAN_K</text></g>
<g id="n188"><use href="#P" class="DR" x="358" y="1229"/><use href="#I" class="DRi" x="358" y="1229"/><text class="lb lg" x="358" y="1229">L-Marcks _ c</text></g>
<g id="n189"><use href="#P" class="DB" x="398" y="1229"/><use href="#I" class="DBi" x="398" y="1229"/><text class="lb lg" x="398" y="1229">L-Ndrg1 _ c ...</text></g>
<g id="n190"><use href="#E" class="B" x="744" y="1229"/><text class="lb lg" x="744" y="1229">Phosphoenolpyruvate _ c ...</text></g>
<g id="n191"><use href="#E" class="R" x="358" y="1254"/><text class="lb lg" x="358" y="1254">PLD1_HUMAN_PL</text></g>
<g id="n192"><use href="#E" class="B" x="398" y="1254"/><text class="lb lg" x="398" y="1254">FOXO3_HUMAN_F ...</text></g>
<g id="n193"><use href="#E" class="B" x="744" y="1254"/><text class="lb lg" x="744" y="1254">ENO1_HUMAN_EN</text></g>
<g id="n194"><use href="#P" class="DR" x="358" y="1279"/><use href="#I" class="DRi" x="358" y="1279"/><text class="lb lg" x="358" y="1279">L-Pa _ c ...</text></g>
<g id="n195"><use href="#P" class="DB" x="398" y="1279"/><use href="#I" class="DBi" x="398" y="1279"/><text class="lb lg" x="398" y="1279">1-Foxo3 _ n ...</text></g>
<g id="n196"><use href="#P" class="DB" x="744" y="1279"/><use href="#I" class="DBi" x="744" y="1279"/><text class="lb lg" x="744" y="1279">2-Phospho-D-glycerate _ c ...</text></g>
<g id="n197"><use href="#E" class="B" x="378" y="1315"/><text class="lb lg" x="378" y="1315">BCL2L11_HUMAN</text></g>
<g id="n198"><use href="#E" class="B" x="418" y="1315"/><text class="lb lg" x="418" y="1315">CDKN1B_HUMAN ...</text></g>
<g id="n199"><use href="#E" class="B" x="744" y="1315"/><text class="lb lg" x="744" y="1315">PGAM1_HUMAN_PG</text></g>
<g id="n200"><use href="#P" class="DB" x="378" y="1340"/><use href="#I" class="DBi" x="378" y="1340"/><text class="lb lg" x="378" y="1340">L-Bim _ c ...</text></g>
<g id="n201"><use href="#P" class="DB" x="418" y="1340"/><use href="#I" class="DBi" x="418" y="1340"/><text class="lb lg" x="418" y="1340">L-p27 _ c ...</text></g>
<g id="n202"><use href="#P" class="DB" x="744" y="1340"/><use href="#I" class="DBi" x="744" y="1340"/><text class="lb lg" x="744" y="1340">3-Phospho-D-glycerate _ c ...</text></g>
<g id="n203"><use href="#E" class="B" x="726" y="1376"/><text class="lb lg" x="726" y="1376">Glycerate_kinase_HUMAN</text></g>
<g id="n204"><use href="#E" class="B" x="765" y="1376"/><text class="lb lg" x="765" y="1376">PGK1_HUMAN_kinase</text></g>
<g id="n205"><use href="#P" class="DB" x="726" y="1401"/><use href="#I" class="DBi" x="726" y="1401"/><text class="lb lg" x="726" y="1401">2-Phospho-D-glycerate</text></g>
<g id="n206"><use href="#P" class="DB" x="765" y="1401"/><use href="#I" class="DBi" x="765" y="1401"/><text class="lb lg" x="765" y="1401">D-Glycerate _ c ...</text></g>
</g>
</svg>
